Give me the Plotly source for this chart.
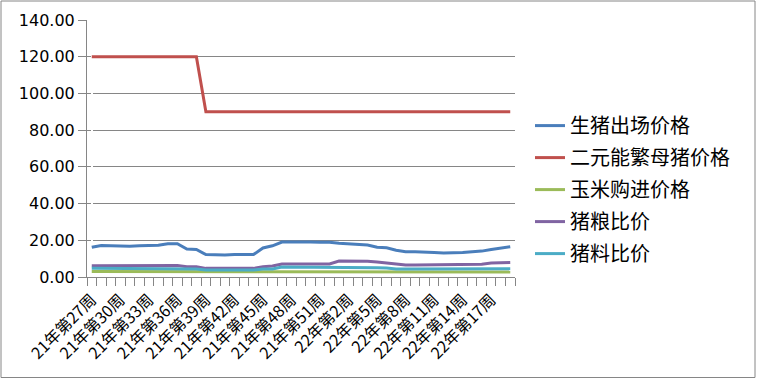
import plotly.graph_objects as go

categories = [f"21年第{w}周" for w in range(27, 53)] + [f"22年第{w}周" for w in range(1, 20)]

pig_price = [16.2, 17.2, 17.0, 16.8, 16.8, 17.0, 17.0, 17.3, 18.1, 18.1,
             15.2, 15.0, 12.2, 12.0, 12.0, 12.2, 12.2, 12.2, 15.8, 17.0,
             19.0, 19.1, 19.1, 19.0, 18.9, 18.9, 18.4, 18.2, 17.9, 17.4,
             16.2, 15.9, 14.6, 13.8, 13.7, 13.7, 13.3, 13.1, 13.1, 13.3,
             13.8, 14.1, 15.0, 15.8, 16.5]
sow_price = [120.0] * 12 + [90.0] * 33
corn_price = [3.0] * 10 + [2.8] * 8 + [3.1] * 8 + [2.7] * 19
pig_grain_ratio = [6.1, 6.1, 6.1, 6.1, 6.1, 6.1, 6.1, 6.2, 6.3, 6.3,
                   5.6, 5.6, 4.7, 4.7, 4.7, 4.7, 4.7, 4.7, 5.6, 6.0,
                   7.1, 7.1, 7.1, 7.1, 7.1, 7.1, 8.7, 8.7, 8.7, 8.6,
                   8.2, 7.7, 7.4, 6.6, 6.6, 6.6, 6.6, 6.6, 6.6, 6.6,
                   6.7, 7.0, 7.6, 7.9, 7.9]
pig_feed_ratio = [4.7] * 10 + [4.3] * 2 + [3.8] * 6 + [4.4] * 2 + [5.4] * 6 + [5.1] * 5 + [4.9] + [4.4] * 11 + [4.5] * 2

series_names = ["生猪出场价格", "二元能繁母猪价格", "玉米购进价格", "猪粮比价", "猪料比价"]
series_values = [pig_price, sow_price, corn_price, pig_grain_ratio, pig_feed_ratio]
colors = ["#4A7EBB", "#C0504D", "#9BBB59", "#8064A2", "#4BACC6"]

yticks = [0, 20, 40, 60, 80, 100, 120, 140]

x = list(range(len(categories)))
fig = go.Figure()
for name, vals, c in zip(series_names, series_values, colors):
    fig.add_trace(go.Scatter(x=x, y=vals, name=name, mode="lines",
                             line=dict(color=c, width=3), legendgroup=name))

W, H = 757, 379
ml, mr, mt, mb = 87, 242, 20, 102
pw, ph = W - ml - mr, H - mt - mb

fig.update_layout(
    width=W, height=H,
    margin=dict(l=ml, r=mr, t=mt, b=mb),
    paper_bgcolor="white", plot_bgcolor="white",
    font=dict(family="Noto Sans CJK SC", color="black"),
    legend=dict(x=1.035, y=0.665, xanchor="left", yanchor="top",
                font=dict(size=20, family="Noto Sans CJK SC"),
                tracegroupgap=3, itemwidth=30, bgcolor="rgba(0,0,0,0)"),
    xaxis=dict(range=[-0.5, len(categories) - 0.5],
               tickvals=x[::3], ticktext=categories[::3],
               tickangle=-45, ticks="", showgrid=False, ticklabelstandoff=6,
               showline=True, linecolor="#868686", linewidth=1,
               tickfont=dict(size=16, family="Noto Sans CJK SC"),
               minor=dict(tickvals=[i - 0.5 for i in range(len(categories) + 1)],
                          ticks="outside", ticklen=8, tickcolor="#868686", showgrid=False)),
    yaxis=dict(range=[0, 140], tickvals=yticks, tickformat=".2f",
               showgrid=True, gridcolor="#868686", gridwidth=1,
               showline=True, linecolor="#868686", linewidth=1,
               ticks="outside", ticklen=8, tickcolor="#868686",
               tickfont=dict(size=16, family="DejaVu Sans"), zeroline=False),
    shapes=[dict(type="rect", xref="paper", yref="paper",
                 x0=(1 - ml) / pw, x1=(W - 2 - ml) / pw,
                 y0=-(H - 1.5 - mt - ph) / ph, y1=1 + (mt - 1) / ph,
                 line=dict(color="#868686", width=1))],
)

fig.write_html("out.html", config={"displayModeBar": False},
               post_script="document.body.style.margin='0px';document.body.style.overflow='hidden';")
